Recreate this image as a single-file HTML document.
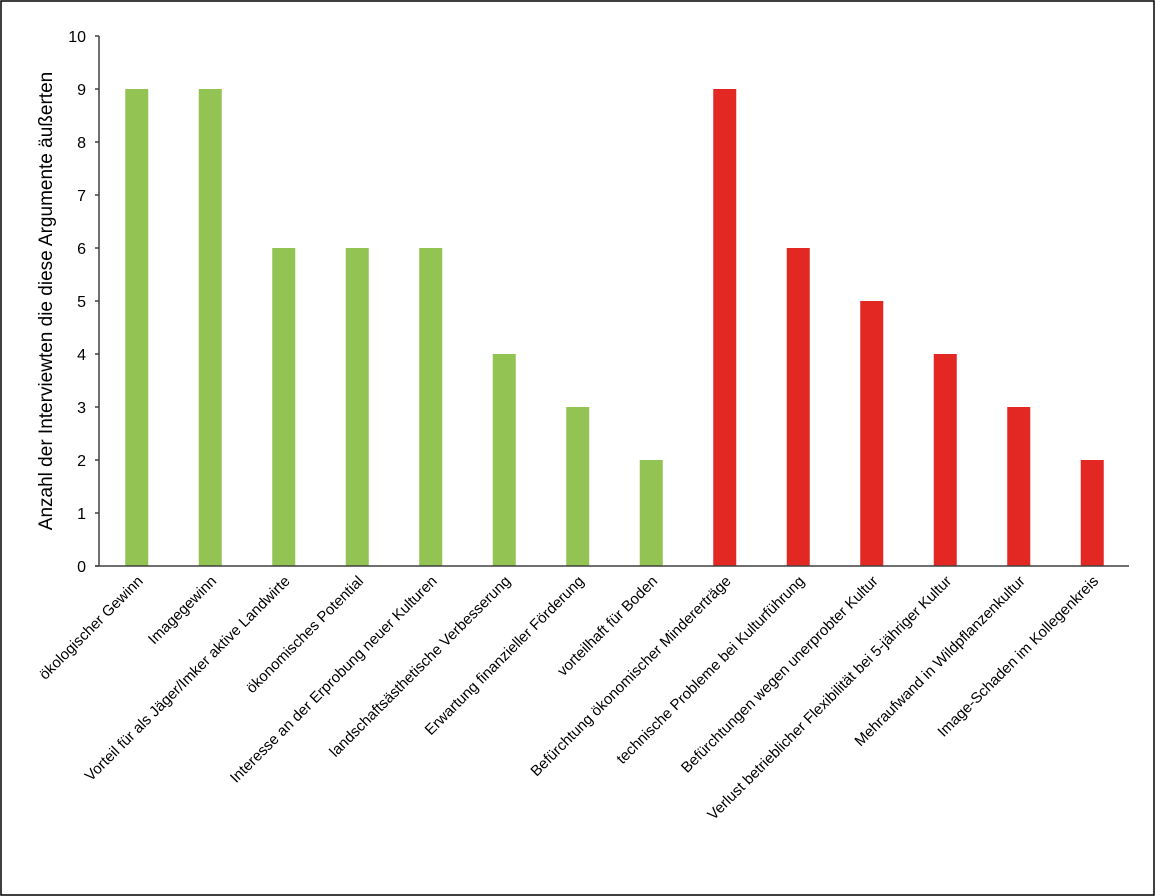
<!DOCTYPE html>
<html><head><meta charset="utf-8"><style>
html,body{margin:0;padding:0;background:#fff}
svg{display:block}
text{font-family:"Liberation Sans",sans-serif;fill:#000}
</style></head><body>
<svg id="chart" width="1155" height="896" viewBox="0 0 1155 896">
<rect x="1" y="1" width="1153" height="894" fill="#fff" stroke="#000" stroke-width="1.5"/>
<text transform="translate(52,301) rotate(-90)" text-anchor="middle" font-size="19">Anzahl der Interviewten die diese Argumente äußerten</text>
<g id="plot"></g>
</svg>
<script>
const categories = ["ökologischer Gewinn","Imagegewinn","Vorteil für als Jäger/Imker aktive Landwirte","ökonomisches Potential","Interesse an der Erprobung neuer Kulturen","landschaftsästhetische Verbesserung","Erwartung finanzieller Förderung","vorteilhaft für Boden","Befürchtung ökonomischer Mindererträge","technische Probleme bei Kulturführung","Befürchtungen wegen unerprobter Kultur","Verlust betrieblicher Flexibilität bei 5-jähriger Kultur","Mehraufwand in Wildpflanzenkultur","Image-Schaden im Kollegenkreis"];
const values = [9,9,6,6,6,4,3,2,9,6,5,4,3,2];
const groups = ["pro","pro","pro","pro","pro","pro","pro","pro","contra","contra","contra","contra","contra","contra"];
const yTicks = [0,1,2,3,4,5,6,7,8,9,10];
const NS="http://www.w3.org/2000/svg";
const g=document.getElementById('plot');
const x0=100,x1=1129,y0=566,y1=36,yMax=10;
const band=(x1-x0)/categories.length;
const xc=i=>x0+band*(i+0.5);
const ys=v=>y0-(v/yMax)*(y0-y1);
function mk(t,a){const e=document.createElementNS(NS,t);for(const k in a)e.setAttribute(k,a[k]);g.appendChild(e);return e;}
yTicks.forEach(t=>{
  const l=mk('line',{x1:95,x2:99,y1:ys(t),y2:ys(t),stroke:'#404040','stroke-width':1.5});
  
  
  const tx=mk('text',{x:86,y:ys(t)+6,'text-anchor':'end','font-size':16});
  tx.textContent=t;
  
  
});
values.forEach((v,i)=>{
  const r=mk('rect',{x:xc(i)-11.5,y:ys(v),width:23,height:y0-ys(v),fill:groups[i]==='pro'?'#92c353':'#e32722'});
  
  
  const ax=xc(i)+7,ay=582;
  const tx=mk('text',{x:ax,y:ay,'text-anchor':'end','font-size':15,transform:'rotate(-45 '+ax+' '+ay+')'});
  tx.textContent=categories[i];
  
  
});
const ya=mk('line',{x1:99,x2:99,y1:y1,y2:y0,stroke:'#404040','stroke-width':1.5});


const xa=mk('line',{x1:95,x2:x1,y1:y0,y2:y0,stroke:'#404040','stroke-width':1.5});


</script>
</body></html>
